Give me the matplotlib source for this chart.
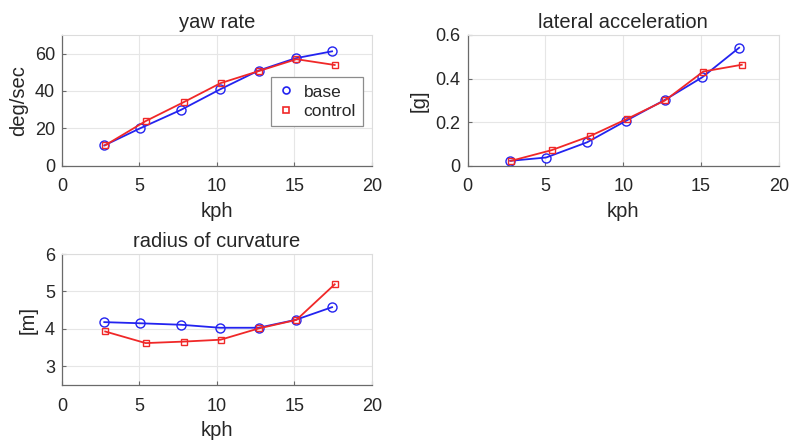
import matplotlib
matplotlib.use("Agg")
import matplotlib.pyplot as plt
from matplotlib.lines import Line2D
from matplotlib.ticker import FuncFormatter

plt.rcParams["font.family"] = ["Liberation Sans", "DejaVu Sans"]

# speed points (kph)
kph_base = [2.73, 5.03, 7.68, 10.19, 12.69, 15.08, 17.44]
kph_ctrl = [2.79, 5.40, 7.85, 10.24, 12.69, 15.14, 17.61]

yaw_base = [10.9, 20.0, 29.9, 40.8, 50.9, 57.5, 61.2]
yaw_ctrl = [11.0, 23.9, 34.0, 44.2, 50.6, 57.0, 53.9]

lat_base = [0.023, 0.038, 0.108, 0.207, 0.303, 0.406, 0.541]
lat_ctrl = [0.023, 0.072, 0.136, 0.215, 0.300, 0.432, 0.463]

rad_base = [4.18, 4.15, 4.11, 4.03, 4.03, 4.24, 4.58]
rad_ctrl = [3.93, 3.62, 3.66, 3.71, 4.01, 4.24, 5.19]

BLUE = "#2323f0"
RED = "#f02828"
TXT = "#262626"
FS = 13
LFS = 14.5

fmt = FuncFormatter(lambda v, p: f"{v:g}")


def style_axes(ax, title, ylabel, ylim, yticks):
    ax.set_xlim(0, 20)
    ax.set_xticks([0, 5, 10, 15, 20])
    ax.set_ylim(*ylim)
    ax.set_yticks(yticks)
    ax.xaxis.set_major_formatter(fmt)
    ax.yaxis.set_major_formatter(fmt)
    ax.grid(True, color="#e6e6e6", linewidth=0.8)
    ax.set_axisbelow(True)
    for s in ["left", "bottom"]:
        ax.spines[s].set_color("#6a6a6a")
        ax.spines[s].set_linewidth(0.9)
    for s in ["top", "right"]:
        ax.spines[s].set_color("#dcdcdc")
        ax.spines[s].set_linewidth(0.8)
    ax.tick_params(direction="in", length=3, labelsize=FS, labelcolor=TXT,
                   color="#6a6a6a", top=False, right=False)
    ax.tick_params(axis="x", pad=9)
    ax.tick_params(axis="y", pad=5)
    ax.set_title(title, fontsize=LFS, color=TXT, pad=5)
    ax.set_xlabel("kph", fontsize=LFS, color=TXT, labelpad=5)
    ax.set_ylabel(ylabel, fontsize=LFS, color=TXT, labelpad=5)


def plot_pair(ax, yb, yc):
    ax.plot(kph_base, yb, "-o", color=BLUE, mfc="none", mec=BLUE, ms=6.5, lw=1.3, mew=1.0)
    ax.plot(kph_ctrl, yc, "-s", color=RED, mfc="none", mec=RED, ms=4.5, lw=1.3, mew=1.0)


fig = plt.figure(figsize=(7.90, 4.47), dpi=100)

ax1 = fig.add_axes([0.0785, 0.629, 0.392, 0.293])
plot_pair(ax1, yaw_base, yaw_ctrl)
style_axes(ax1, "yaw rate", "deg/sec", (0, 70), [0, 20, 40, 60])
handles = [
    Line2D([], [], ls="none", marker="o", mfc="none", mec=BLUE, ms=5, mew=1.2),
    Line2D([], [], ls="none", marker="s", mfc="none", mec=RED, ms=4, mew=1.2),
]
leg = ax1.legend(handles, ["base", "control"], loc="upper left",
                 bbox_to_anchor=(0.674, 0.675), borderaxespad=0, fontsize=12.5,
                 frameon=True, fancybox=False, edgecolor="#8c8c8c", framealpha=1,
                 handlelength=1.0, handletextpad=0.5, borderpad=0.4,
                 labelspacing=0.25)
leg.get_frame().set_linewidth(0.9)
for t in leg.get_texts():
    t.set_color(TXT)

ax2 = fig.add_axes([0.592, 0.629, 0.394, 0.293])
plot_pair(ax2, lat_base, lat_ctrl)
style_axes(ax2, "lateral acceleration", "[g]", (0, 0.6), [0, 0.2, 0.4, 0.6])

ax3 = fig.add_axes([0.0785, 0.1387, 0.392, 0.293])
plot_pair(ax3, rad_base, rad_ctrl)
style_axes(ax3, "radius of curvature", "[m]", (2.5, 6), [3, 4, 5, 6])

fig.savefig("out.png", dpi=100)
